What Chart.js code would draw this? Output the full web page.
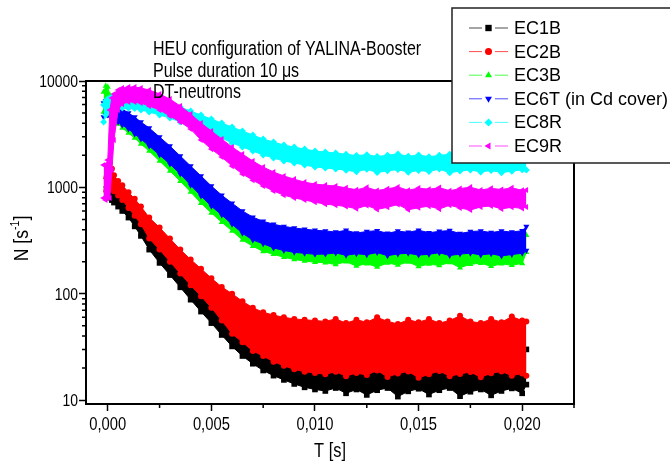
<!DOCTYPE html>
<html>
<head>
<meta charset="utf-8">
<script src="https://cdn.jsdelivr.net/npm/chart.js@4.4.0/dist/chart.umd.min.js"></script>
<style>
  html, body { margin: 0; padding: 0; background: #fff; }
  #wrap { position: relative; width: 670px; height: 465px; }
</style>
</head>
<body>
<div id="wrap"><canvas id="decay"></canvas></div>
<script>
// time channels [s]
const times = [-0.0002, -0.0001, 0, 0.0001, 0.0002, 0.0003, 0.0005, 0.0007, 0.001, 0.0013, 0.0016, 0.002,
  0.0025, 0.003, 0.0035, 0.004, 0.0045, 0.005, 0.0055, 0.006, 0.0065, 0.007, 0.0075, 0.008, 0.0085, 0.009, 0.0095, 0.010,
  0.0105, 0.011, 0.0115, 0.012, 0.0125, 0.013, 0.0135, 0.014, 0.0145, 0.015, 0.0155, 0.016, 0.0165, 0.017, 0.0175, 0.018,
  0.0185, 0.019, 0.0195, 0.020, 0.0202];

// upper / lower edge of the scatter band of each detector, N [1/s]
const ec1bHigh = [1000, 1080, 1100, 1050, 980, 950, 880, 820, 720, 620, 520, 420, 330, 260, 200, 160, 125, 100, 80, 66, 55, 46, 40, 35, 32, 30, 28, 27,
  26, 25, 27, 24, 26, 25, 27, 25, 24, 26, 25, 27, 24, 26, 25, 26, 24, 27, 25, 26, 30];
const ec1bLow = [800, 850, 860, 800, 760, 720, 660, 600, 520, 430, 350, 260, 195, 150, 115, 88, 68, 53, 41, 32, 26, 22, 19, 17, 15.5, 14.2, 13.2, 12.6,
  12.2, 13, 11.6, 12.6, 11.2, 12.4, 13, 10.8, 12.1, 12.8, 11.3, 12.4, 13, 10.9, 12, 12.6, 11.1, 12.2, 12.9, 11.6, 14];

const ec2bHigh = [1200, 1500, 1700, 1700, 1500, 1300, 1150, 1050, 900, 780, 660, 520, 420, 330, 260, 210, 172, 140, 116, 100, 85, 74, 67, 63, 60, 58, 57, 56,
  55, 58, 53, 57, 54, 60, 55, 52, 57, 54, 58, 53, 56, 62, 55, 53, 58, 54, 61, 56, 55];
const ec2bLow = [900, 1100, 1200, 1100, 1000, 920, 840, 760, 640, 540, 450, 330, 260, 200, 155, 120, 95, 74, 56, 42, 35, 29, 26, 23, 21, 19.5, 18.5, 18,
  17.5, 18.5, 16.8, 18, 17.2, 19, 16.5, 17.8, 18.6, 16.2, 17.5, 18.8, 16.8, 17.6, 18.4, 16.4, 17.9, 18.6, 17, 17.8, 17];

const ec3bHigh = [7880, 8970, 8780, 7385, 6345, 5820, 5335, 4895, 4390, 3940, 3535, 3040, 2500, 2015, 1620, 1305, 1050, 845, 695, 575, 480, 415, 370, 340, 320, 305, 300, 295,
  292, 285, 296, 280, 288, 275, 290, 283, 294, 278, 286, 291, 276, 289, 284, 295, 280, 287, 279, 290, 355];
const ec3bLow = [5110, 5570, 5335, 4685, 4390, 4205, 3940, 3615, 3240, 2910, 2555, 2195, 1770, 1425, 1145, 905, 710, 575, 470, 390, 320, 280, 250, 235, 220, 210, 203, 198,
  196, 188, 200, 182, 192, 178, 195, 186, 199, 180, 190, 184, 197, 176, 189, 194, 181, 191, 185, 193, 245];

const ec6tHigh = [6210, 6480, 6480, 6345, 6210, 6075, 5820, 5450, 5000, 4585, 4115, 3615, 2975, 2445, 1970, 1585, 1280, 1030, 845, 710, 600, 525, 480, 450, 430, 415, 405, 395,
  390, 380, 395, 372, 385, 392, 370, 388, 378, 396, 375, 386, 393, 368, 384, 390, 376, 389, 380, 392, 430];
const ec6tLow = [4585, 4785, 4785, 4685, 4585, 4390, 4115, 3855, 3535, 3175, 2850, 2445, 2015, 1655, 1335, 1050, 830, 665, 550, 450, 370, 320, 295, 270, 255, 245, 240, 235,
  236, 242, 230, 238, 233, 244, 228, 237, 240, 231, 235, 243, 229, 236, 241, 232, 238, 227, 234, 240, 255];

const ec8rHigh = [5945, 6480, 6770, 6920, 7070, 7150, 7000, 7100, 7050, 7000, 6920, 6770, 6480, 6075, 5695, 5220, 4785, 4390, 4025, 3690, 3385, 3105, 2850, 2670, 2500, 2395, 2290, 2195,
  2150, 2100, 2050, 1990, 2030, 1950, 2010, 2060, 1960, 2020, 1940, 2000, 2045, 1970, 2015, 1955, 2035, 1985, 2005, 1945, 1970];
const ec8rLow = [4115, 4785, 5110, 5335, 5450, 5570, 5600, 5570, 5550, 5500, 5335, 5110, 4785, 4485, 4115, 3775, 3460, 3175, 2910, 2610, 2395, 2195, 2015, 1885, 1770, 1695, 1620, 1555,
  1520, 1490, 1450, 1400, 1480, 1380, 1430, 1470, 1390, 1440, 1410, 1485, 1370, 1425, 1460, 1395, 1445, 1375, 1420, 1465, 1455];

const ec9rHigh = [1620, 1620, 1805, 5335, 6920, 7545, 8230, 8590, 8780, 8780, 8590, 8230, 7545, 6770, 5820, 4895, 4025, 3385, 2850, 2395, 2055, 1770, 1555, 1395, 1280, 1195, 1120, 1075,
  1050, 1030, 990, 950, 1000, 935, 970, 1010, 940, 985, 960, 995, 930, 975, 1005, 945, 980, 955, 990, 940, 945];
const ec9rLow = [795, 760, 795, 795, 1455, 2785, 5335, 6075, 6345, 6345, 6210, 5820, 5335, 4685, 4115, 3535, 2785, 2290, 1930, 1585, 1335, 1170, 1030, 925, 845, 795, 760, 725,
  695, 680, 660, 630, 675, 620, 650, 690, 615, 645, 665, 625, 680, 640, 612, 655, 670, 628, 650, 635, 655];

const seriesNames = ['EC1B', 'EC2B', 'EC3B', 'EC6T (in Cd cover)', 'EC8R', 'EC9R'];
const highs = [ec1bHigh, ec2bHigh, ec3bHigh, ec6tHigh, ec8rHigh, ec9rHigh];
const lows = [ec1bLow, ec2bLow, ec3bLow, ec6tLow, ec8rLow, ec9rLow];
const yTickLabels = [10, 100, 1000, 10000];
const xTickLabels = ['0,000', '0,005', '0,010', '0,015', '0,020'];
const notes = ['HEU configuration of YALINA-Booster', 'Pulse duration 10 \u03bcs', 'DT-neutrons'];

const colors = ['#000000', '#ff0000', '#00ff00', '#0000ff', '#00ffff', '#ff00ff'];
const markers = [
  { pointStyle: 'rect', rotation: 0, radius: 4 },
  { pointStyle: 'circle', rotation: 0, radius: 3 },
  { pointStyle: 'triangle', rotation: 0, radius: 3.5 },
  { pointStyle: 'triangle', rotation: 180, radius: 3.5 },
  { pointStyle: 'rectRot', rotation: 0, radius: 3.5 },
  { pointStyle: 'triangle', rotation: -90, radius: 3.5 }
];

const plain = "'Liberation Sans', Arial, sans-serif";
const squeeze = 0.82; // the figure's labels use a narrow face

const isStep = (v, step) => Math.abs(v / step - Math.round(v / step)) < 1e-6;
const isPow10 = v => v > 0 && isStep(Math.log10(v), 1);
const isNiceLog = v => {
  const p = Math.pow(10, Math.floor(Math.log10(v) + 1e-9));
  return isStep(v / p, 1);
};

// narrow text: plain face squeezed sideways
function narrowText(ctx, text, x, y, size, align, sx) {
  ctx.save();
  ctx.translate(x, y);
  ctx.scale(sx || squeeze, 1);
  ctx.font = size + 'px ' + plain;
  ctx.textAlign = align;
  ctx.textBaseline = 'alphabetic';
  ctx.fillText(text, 0, 0);
  ctx.restore();
}

// later series are drawn on top, so push them first
const datasets = [];
for (let i = seriesNames.length - 1; i >= 0; i--) {
  const r = markers[i].radius;
  const common = {
    borderColor: colors[i],
    backgroundColor: colors[i],
    pointBackgroundColor: colors[i],
    pointBorderWidth: 0,
    // the black and red bands hide under EC9R before the pulse
    pointRadius: c => (i < 2 && c.raw && c.raw.x < 0.0001) ? 0 : r,
    pointStyle: markers[i].pointStyle,
    pointRotation: markers[i].rotation,
    borderWidth: 1,
    tension: 0
  };
  datasets.push({ ...common, label: seriesNames[i], fill: '+1',
    data: times.map((t, k) => ({ x: t, y: highs[i][k] })) });
  datasets.push({ ...common, label: seriesNames[i] + ' low', fill: false,
    data: times.map((t, k) => ({ x: t, y: lows[i][k] })) });
}

// minor ticks, tick labels and the box around the plot
const frameTicks = {
  id: 'frameTicks',
  afterDatasetsDraw(chart) {
    const { ctx, chartArea: a, scales: { x, y } } = chart;
    ctx.save();
    ctx.strokeStyle = '#000';
    ctx.fillStyle = '#000';
    ctx.lineWidth = 1.5;
    ctx.beginPath();
    x.ticks.forEach(t => {
      const px = x.getPixelForValue(t.value);
      if (!isStep(t.value, 0.005)) {
        ctx.moveTo(px, a.bottom);
        ctx.lineTo(px, a.bottom + 4);
      } else {
        const lab = xTickLabels[Math.round(t.value / 0.005)];
        if (lab) narrowText(ctx, lab, px, 430, 18, 'center');
      }
    });
    y.ticks.forEach(t => {
      const py = y.getPixelForValue(t.value);
      if (isPow10(t.value)) {
        const lab = yTickLabels.find(l => Math.abs(l - t.value) < 1e-6);
        if (lab !== undefined) narrowText(ctx, String(lab), a.left - 8, py + 6, 17, 'right');
      } else if (isNiceLog(t.value)) {
        ctx.moveTo(a.left, py);
        ctx.lineTo(a.left - 4, py);
      }
    });
    ctx.stroke();
    ctx.lineWidth = 2;
    ctx.strokeRect(a.left, a.top, a.right - a.left, a.bottom - a.top);
    ctx.restore();
  }
};

// axis titles, text notes and the legend box
const overlay = {
  id: 'overlay',
  afterDraw(chart) {
    const { ctx, chartArea: a } = chart;
    ctx.save();
    ctx.fillStyle = '#000';

    narrowText(ctx, 'T [s]', (a.left + a.right) / 2, 457, 20, 'center');

    // N [s^-1]
    ctx.translate(28, (a.top + a.bottom) / 2 - 4);
    ctx.rotate(-Math.PI / 2);
    ctx.scale(0.88, 1);
    ctx.textBaseline = 'alphabetic';
    ctx.font = '20px ' + plain;
    const w1 = ctx.measureText('N [s').width;
    const w3 = ctx.measureText(']').width;
    ctx.font = '12px ' + plain;
    const w2 = ctx.measureText('-1').width;
    const px = -(w1 + w2 + w3) / 2;
    ctx.font = '20px ' + plain;
    ctx.fillText('N [s', px, 0);
    ctx.font = '12px ' + plain;
    ctx.fillText('-1', px + w1, -9);
    ctx.font = '20px ' + plain;
    ctx.fillText(']', px + w1 + w2, 0);
    ctx.setTransform(1, 0, 0, 1, 0, 0);

    // notes
    notes.forEach((s, k) => narrowText(ctx, s, 153, 55 + k * 21.5, 19.5, 'left'));

    // legend
    ctx.fillStyle = '#fff';
    ctx.fillRect(452, 8, 240, 155);
    ctx.strokeStyle = '#222';
    ctx.lineWidth = 1.5;
    ctx.strokeRect(452, 8, 240, 155);
    ctx.font = '18px ' + plain;
    ctx.textBaseline = 'middle';
    ctx.textAlign = 'left';
    seriesNames.forEach((name, i) => {
      const ry = 28 + i * 23.6;
      ctx.strokeStyle = colors[i];
      ctx.globalAlpha = 0.7;
      ctx.lineWidth = 1;
      ctx.beginPath();
      ctx.moveTo(469, ry); ctx.lineTo(482, ry);
      ctx.moveTo(495, ry); ctx.lineTo(508, ry);
      ctx.stroke();
      ctx.globalAlpha = 1;
      ctx.fillStyle = colors[i];
      Chart.helpers.drawPoint(ctx, { pointStyle: markers[i].pointStyle, rotation: markers[i].rotation,
        radius: markers[i].radius + 0.5, borderWidth: 0 }, 488.5, ry);
      ctx.fillStyle = '#000';
      ctx.fillText(name, 514, ry + 1);
    });
    ctx.restore();
  }
};

new Chart(document.getElementById('decay'), {
  type: 'line',
  data: { datasets },
  plugins: [frameTicks, overlay],
  options: {
    responsive: true,
    maintainAspectRatio: false,
    animation: false,
    layout: { padding: { left: 0, right: 96, top: 81, bottom: 0 } },
    plugins: {
      legend: { display: false },
      tooltip: { enabled: false }
    },
    scales: {
      x: {
        type: 'linear',
        min: -0.00105,
        max: 0.0225,
        afterFit: s => { s.height = 61; },
        border: { display: false },
        grid: {
          drawOnChartArea: false,
          tickLength: 7,
          tickWidth: 1.5,
          tickColor: c => isStep(c.tick.value, 0.005) ? '#000' : 'rgba(0,0,0,0)'
        },
        ticks: {
          display: false,
          stepSize: 0.0025,
          includeBounds: false,
          autoSkip: false
        }
      },
      y: {
        type: 'logarithmic',
        min: 9.2,
        max: 10000,
        afterFit: s => { s.width = 86; },
        border: { display: false },
        grid: {
          drawOnChartArea: false,
          tickLength: 7,
          tickWidth: 1.5,
          tickColor: c => isPow10(c.tick.value) ? '#000' : 'rgba(0,0,0,0)'
        },
        ticks: {
          display: false,
          autoSkip: false
        }
      }
    }
  }
});
</script>
</body>
</html>
